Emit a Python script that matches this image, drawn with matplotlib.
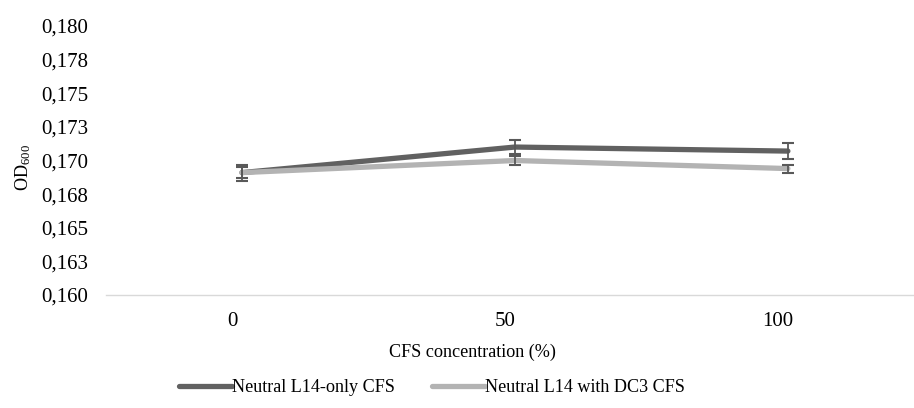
"""Recreate the OD600 vs CFS concentration line chart."""

import matplotlib.pyplot as plt
from matplotlib.transforms import ScaledTranslation

plt.rcParams["font.family"] = ["Liberation Serif", "DejaVu Serif"]
plt.rcParams["mathtext.default"] = "regular"

concentrations = ["0", "50", "100"]
l14_only = [0.1691, 0.1710, 0.1707]
l14_only_err = [0.0006, 0.00055, 0.0006]
l14_dc3 = [0.1691, 0.1700, 0.1694]
l14_dc3_err = [0.0004, 0.0003, 0.0003]
y_ticks = [0.160, 0.1625, 0.165, 0.1675, 0.170, 0.1725, 0.175, 0.1775, 0.180]
y_tick_labels = ["0,160", "0,163", "0,165", "0,168", "0,170", "0,173", "0,175", "0,178", "0,180"]

COLORS = {"dark": "#616161", "light": "#b3b3b3", "err": "#595959", "axis": "#d9d9d9"}
TICK_FS = 15
FS = 13.1

fig = plt.figure(figsize=(9.14, 4.08), dpi=100)
W, H = 914, 408
ax = fig.add_axes([106 / W, 1 - 295 / H, 1 - 106 / W, (295 - 26) / H])

x = list(range(len(concentrations)))
ax.plot(x, l14_only, color=COLORS["dark"], linewidth=3.8, solid_capstyle="round",
        label="Neutral L14-only CFS", zorder=2)
ax.plot(x, l14_dc3, color=COLORS["light"], linewidth=3.8, solid_capstyle="round",
        label="Neutral L14 with DC3 CFS", zorder=3)
ax.errorbar(x, l14_only, yerr=l14_only_err, fmt="none", ecolor=COLORS["err"],
            elinewidth=1.3, capsize=4.3, capthick=1.5, zorder=4)
ax.errorbar(x, l14_dc3, yerr=l14_dc3_err, fmt="none", ecolor=COLORS["err"],
            elinewidth=1.3, capsize=4.3, capthick=1.5, zorder=4)

ax.set_xlim(-0.498, 2.462)
ax.set_ylim(0.160, 0.180)
ax.set_xticks(x)
ax.set_xticklabels(concentrations, fontsize=TICK_FS)
ax.set_yticks(y_ticks)
ax.set_yticklabels(y_tick_labels, fontsize=TICK_FS)
ax.tick_params(axis="both", length=0)
ax.tick_params(axis="y", pad=13)
ax.tick_params(axis="x", pad=12)

# category labels sit a little left of the data points in the original
shift = ScaledTranslation(-10 / 100, 0, fig.dpi_scale_trans)
for lbl in ax.get_xticklabels():
    lbl.set_transform(lbl.get_transform() + shift)

for side in ["top", "right", "left"]:
    ax.spines[side].set_visible(False)
ax.spines["bottom"].set_color(COLORS["axis"])
ax.spines["bottom"].set_linewidth(1.0)

fig.text(23 / W, 1 - 168 / H, "OD$_{600}$", rotation=90, ha="center", va="center", fontsize=FS)
fig.text(472 / W, 1 - 352 / H, "CFS concentration (%)", ha="center", va="center", fontsize=FS)

fig.legend(loc="center", bbox_to_anchor=(432 / W, 1 - 388 / H), ncols=2, frameon=False,
           fontsize=FS, handlelength=2.9, handletextpad=0.0, columnspacing=2.03)

fig.savefig("out.png", dpi=100, facecolor="white")
